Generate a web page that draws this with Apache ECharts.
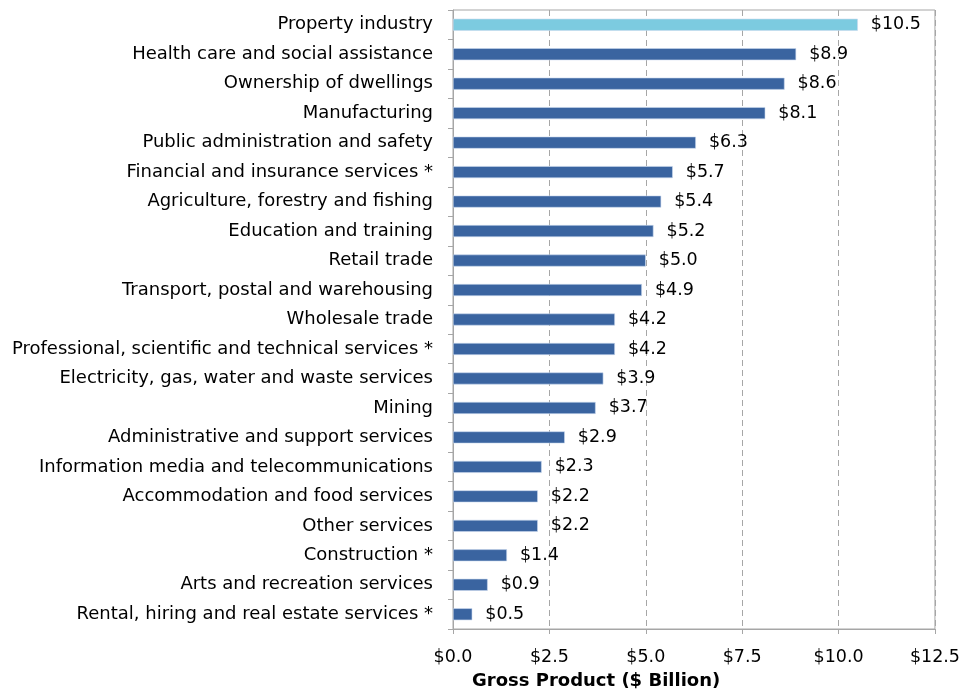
<!DOCTYPE html>
<html><head><meta charset="utf-8">
<script src="https://cdn.jsdelivr.net/npm/echarts@6/dist/echarts.min.js"></script>
<style>html,body{margin:0;padding:0;background:#fff}#c{width:963px;height:691px}</style>
</head><body><div id="c"></div>
<script>
const categories = [
  "Property industry",
  "Health care and social assistance",
  "Ownership of dwellings",
  "Manufacturing",
  "Public administration and safety",
  "Financial and insurance services *",
  "Agriculture, forestry and fishing",
  "Education and training",
  "Retail trade",
  "Transport, postal and warehousing",
  "Wholesale trade",
  "Professional, scientific and technical services *",
  "Electricity, gas, water and waste services",
  "Mining",
  "Administrative and support services",
  "Information media and telecommunications",
  "Accommodation and food services",
  "Other services",
  "Construction *",
  "Arts and recreation services",
  "Rental, hiring and real estate services *"
];
const values = [10.5, 8.9, 8.6, 8.1, 6.3, 5.7, 5.4, 5.2, 5.0, 4.9, 4.2, 4.2, 3.9, 3.7, 2.9, 2.3, 2.2, 2.2, 1.4, 0.9, 0.5];
const highlightIndex = 0;
const xTitle = "Gross Product ($ Billion)";

const font = "DejaVu Sans";
const chart = echarts.init(document.getElementById('c'), null, {renderer: 'canvas'});
chart.setOption({
  animation: false,
  textStyle: {fontFamily: font},
  grid: {left: 453, right: 27, top: 10, bottom: 62, containLabel: false, show: true, borderColor: '#a6a6a6', borderWidth: 1},
  title: {text: xTitle, left: 467, top: 667, textStyle: {fontFamily: font, fontSize: 18, fontWeight: 'bold', color: '#000'}},
  xAxis: {
    type: 'value', min: 0, max: 12.5, interval: 2.5,
    axisLine: {show: true, lineStyle: {color: '#a6a6a6'}},
    axisTick: {show: true, length: 5, lineStyle: {color: '#a6a6a6'}},
    axisLabel: {color: '#000', fontSize: 17.5, fontFamily: font, margin: 19, formatter: v => '$' + v.toFixed(1)},
    splitLine: {show: true, lineStyle: {color: '#a6a6a6', type: [6, 4], width: 1}}
  },
  yAxis: {
    type: 'category', data: categories, inverse: true,
    axisLine: {show: true, lineStyle: {color: '#a6a6a6'}},
    axisTick: {show: true, length: 5, lineStyle: {color: '#a6a6a6'}},
    axisLabel: {color: '#000', fontSize: 18, fontFamily: font, margin: 20}
  },
  series: [{
    type: 'bar',
    data: values.map((v, i) => ({value: v, itemStyle: {color: i === highlightIndex ? '#7ccbe0' : '#3a64a0'}})),
    barWidth: 12,
    itemStyle: {borderColor: '#c9d9ee', borderWidth: 0.6},
    label: {show: true, position: 'right', distance: 13, color: '#000', fontSize: 17.5, fontFamily: font, formatter: p => '$' + p.value.toFixed(1)}
  }]
});
</script></body></html>
